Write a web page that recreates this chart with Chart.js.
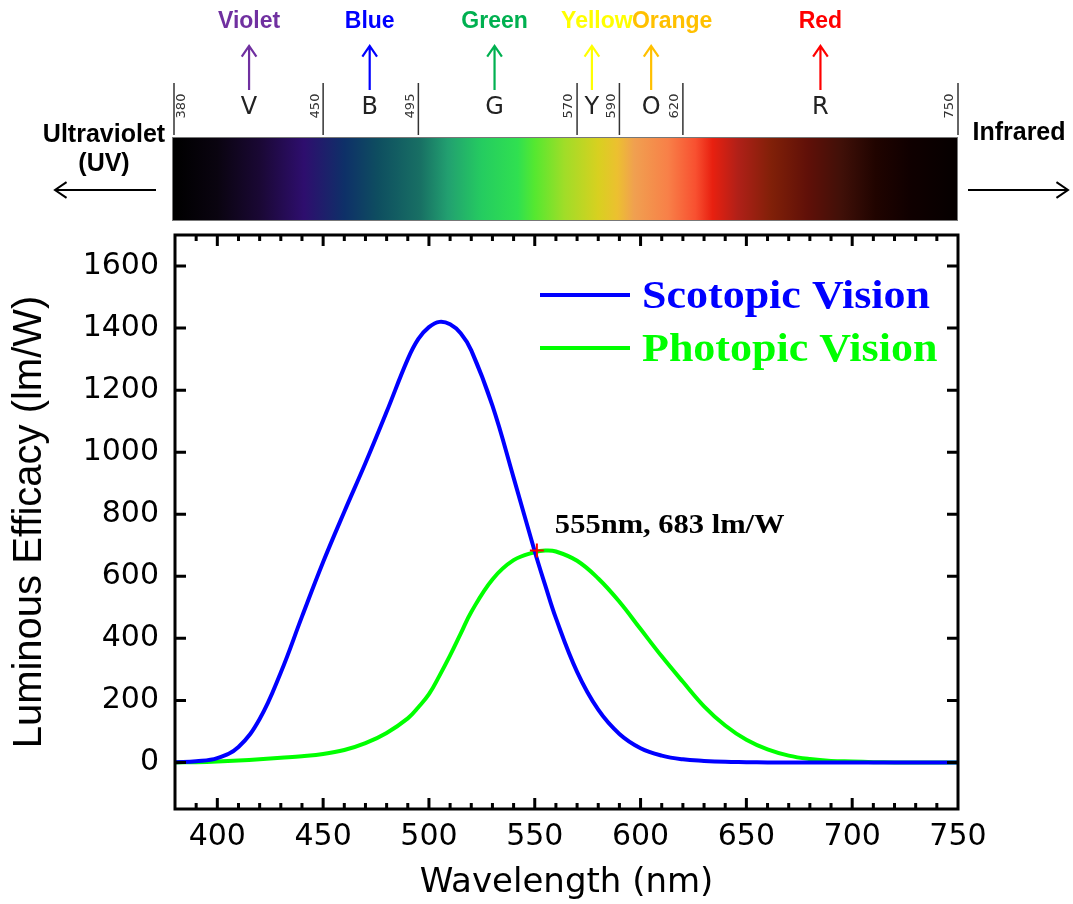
<!DOCTYPE html>
<html>
<head>
<meta charset="utf-8">
<script src="https://cdn.jsdelivr.net/npm/chart.js@4.4.1/dist/chart.umd.min.js"></script>
<style>
  html, body { margin: 0; padding: 0; background: #fff; }
  canvas { display: block; }
</style>
</head>
<body>
<canvas id="chart" width="1073" height="904"></canvas>
<script>
// Wavelength grid (nm)
const waveNm = [380, 390, 400, 410, 420, 430, 440, 450, 460, 470, 480, 490, 495, 500, 505, 510, 515, 520, 530, 540, 550, 555,
  560, 570, 580, 590, 600, 610, 620, 630, 640, 650, 660, 670, 680, 690, 700, 710, 720, 730, 740, 750];

// Luminous efficacy (lm/W)
const scotopic = [1, 4, 14, 50, 140, 290, 470, 646, 808, 965, 1130, 1300, 1365, 1403, 1420, 1412, 1383, 1328, 1150, 918, 680, 570,
  465, 292, 170, 92, 46, 22, 10, 5, 2, 1, 0, 0, 0, 0, 0, 0, 0, 0, 0, 0];
const photopic = [0, 1, 3, 6, 10, 15, 20, 27, 40, 62, 95, 142, 178, 220, 280, 345, 415, 485, 590, 652, 678, 683,
  680, 650, 593, 518, 430, 342, 260, 181, 119, 73, 42, 22, 11, 5, 3, 1, 0, 0, 0, 0];

// crossing marker
const markerPoint = { x: 551, y: 683 };
const markerText = "555nm, 683 lm/W";

// axis ticks
const xTicks = [400, 450, 500, 550, 600, 650, 700, 750];
const yTicks = [0, 200, 400, 600, 800, 1000, 1200, 1400, 1600];

// spectrum strip
const spectrumNm = [380, 400, 420, 441, 460, 476, 496, 509, 525, 542, 550, 564, 580, 589, 597, 613, 626, 634, 646, 662, 679, 695, 711, 727, 750];
const spectrumColors = ["#000000", "#0a0410", "#1a0834", "#2e0e6e", "#0e3068", "#0e4e60", "#187064", "#22a070", "#25cc60", "#30e050",
  "#55e830", "#a0dd28", "#d8d020", "#ecc030", "#f0a050", "#f88048", "#f85030", "#e82010", "#b02018", "#802008",
  "#601008", "#401008", "#200400", "#100000", "#050000"];
const bandEdges = [380, 450, 495, 570, 590, 620, 750];
const bandLetters = ["V", "B", "G", "Y", "O", "R"];
const bandCenterNm = [415, 472, 531, 577, 605, 685];
const bandNames = ["Violet", "Blue", "Green", "Yellow", "Orange", "Red"];
const bandColors = ["#7030A0", "#0000FF", "#00B050", "#FFFF00", "#FFC000", "#FF0000"];

const toPoints = (values) => values.map((v, i) => ({ x: waveNm[i], y: v }));

// stretched text helper (the figure is a bit wider than tall)
const wideText = (ctx, text, x, y, sx) => {
  ctx.save();
  ctx.translate(x, y);
  ctx.scale(sx, 1);
  ctx.fillText(text, 0, 0);
  ctx.restore();
};

const arrow = (ctx, x1, y1, x2, y2, head) => {
  const ang = Math.atan2(y2 - y1, x2 - x1);
  ctx.beginPath();
  ctx.moveTo(x1, y1);
  ctx.lineTo(x2, y2);
  ctx.moveTo(x2 - head * Math.cos(ang - 0.6), y2 - head * Math.sin(ang - 0.6));
  ctx.lineTo(x2, y2);
  ctx.lineTo(x2 - head * Math.cos(ang + 0.6), y2 - head * Math.sin(ang + 0.6));
  ctx.stroke();
};

// Frame with inside ticks on all four sides
const framePlugin = {
  id: "frame",
  afterDraw(chart) {
    const { ctx, chartArea: a, scales: { x, y } } = chart;
    ctx.save();
    ctx.strokeStyle = "#000";
    ctx.lineWidth = 3;
    ctx.lineCap = "butt";
    ctx.beginPath();
    for (let nm = 390; nm < 750; nm += 10) {
      const px = x.getPixelForValue(nm);
      const len = nm % 50 === 0 ? 11 : 6;
      ctx.moveTo(px, a.bottom);
      ctx.lineTo(px, a.bottom - len);
      ctx.moveTo(px, a.top);
      ctx.lineTo(px, a.top + len);
    }
    yTicks.forEach((v) => {
      const py = y.getPixelForValue(v);
      ctx.moveTo(a.left, py);
      ctx.lineTo(a.left + 11, py);
      ctx.moveTo(a.right, py);
      ctx.lineTo(a.right - 11, py);
    });
    ctx.stroke();
    ctx.strokeRect(a.left, a.top, a.right - a.left, a.bottom - a.top);
    ctx.restore();
  },
};

// Legend and crossing label
const legendPlugin = {
  id: "legendText",
  afterDraw(chart) {
    const { ctx, chartArea: a, scales: { x, y } } = chart;
    ctx.save();
    chart.data.datasets.slice(0, 2).forEach((ds, i) => {
      const ly = a.top + 60 + i * 53;
      ctx.strokeStyle = ds.borderColor;
      ctx.lineWidth = 4;
      ctx.beginPath();
      ctx.moveTo(a.left + 365, ly);
      ctx.lineTo(a.left + 455, ly);
      ctx.stroke();
      ctx.fillStyle = ds.borderColor;
      ctx.font = "bold 40px 'Liberation Serif'";
      ctx.textAlign = "left";
      ctx.textBaseline = "middle";
      wideText(ctx, ds.label, a.left + 467, ly + 3, 1.1);
    });
    ctx.fillStyle = "#000";
    ctx.font = "bold 28px 'Liberation Serif'";
    ctx.textBaseline = "middle";
    wideText(ctx, markerText, x.getPixelForValue(markerPoint.x) + 18, y.getPixelForValue(markerPoint.y) - 25, 1.09);
    ctx.restore();
  },
};

// Visible spectrum strip above the plot
const spectrumPlugin = {
  id: "spectrum",
  afterDraw(chart) {
    const { ctx, chartArea: a, scales: { x } } = chart;
    const x0 = x.getPixelForValue(380);
    const x1 = x.getPixelForValue(750);
    ctx.save();
    const grad = ctx.createLinearGradient(x0, 0, x1, 0);
    spectrumNm.forEach((nm, i) => grad.addColorStop((nm - 380) / 370, spectrumColors[i]));
    ctx.fillStyle = grad;
    ctx.fillRect(x0 - 2, 137, x1 - x0 + 2, 84);
    ctx.strokeStyle = "#777";
    ctx.lineWidth = 1;
    ctx.strokeRect(x0 - 2.5, 137.5, x1 - x0 + 2, 83);

    // band edges
    ctx.strokeStyle = "#333";
    ctx.lineWidth = 1.5;
    ctx.fillStyle = "#333";
    ctx.font = "13px 'DejaVu Sans'";
    bandEdges.forEach((nm, i) => {
      const px = x.getPixelForValue(nm) + (i === 0 ? -1 : 0);
      ctx.beginPath();
      ctx.moveTo(px, 83);
      ctx.lineTo(px, 135);
      ctx.stroke();
      ctx.save();
      ctx.translate(px + (i === 0 ? 8 : -8), 106);
      ctx.rotate(-Math.PI / 2);
      ctx.textAlign = "center";
      ctx.textBaseline = "middle";
      ctx.fillText(String(nm), 0, 0);
      ctx.restore();
    });

    // letters, arrows and names
    const nameShift = { Yellow: 5, Orange: 21 };
    bandLetters.forEach((letter, i) => {
      const px = x.getPixelForValue(bandCenterNm[i]);
      ctx.fillStyle = "#222";
      ctx.font = "24px 'DejaVu Sans'";
      ctx.textAlign = "center";
      ctx.textBaseline = "middle";
      ctx.fillText(letter, px, 108);
      ctx.strokeStyle = bandColors[i];
      ctx.lineWidth = 2.2;
      arrow(ctx, px, 90, px, 46, 13);
      ctx.fillStyle = bandColors[i];
      ctx.font = "bold 23px 'Liberation Sans'";
      ctx.fillText(bandNames[i], px + (nameShift[bandNames[i]] || 0), 22);
    });

    // UV and IR
    ctx.fillStyle = "#000";
    ctx.strokeStyle = "#000";
    ctx.lineWidth = 2;
    ctx.font = "bold 25px 'Liberation Sans'";
    ctx.textAlign = "center";
    ctx.textBaseline = "middle";
    ctx.fillText("Ultraviolet", a.left - 71, 135);
    ctx.fillText("(UV)", a.left - 71, 164);
    arrow(ctx, a.left - 19, 190, a.left - 120, 190, 14);
    ctx.fillText("Infrared", a.right + 61, 133);
    arrow(ctx, a.right + 10, 190, a.right + 110, 190, 14);
    ctx.restore();
  },
};

new Chart(document.getElementById("chart"), {
  type: "line",
  data: {
    datasets: [
      {
        label: "Scotopic Vision",
        data: toPoints(scotopic),
        borderColor: "#0000FF",
        borderWidth: 4,
        pointRadius: 0,
        tension: 0.4,
      },
      {
        label: "Photopic Vision",
        data: toPoints(photopic),
        borderColor: "#00FF00",
        borderWidth: 4,
        pointRadius: 0,
        tension: 0.4,
      },
      {
        label: "marker",
        data: [markerPoint],
        order: -1,
        showLine: false,
        pointStyle: "cross",
        pointRadius: 7,
        pointBorderColor: "#FF0000",
        pointBorderWidth: 2,
      },
    ],
  },
  options: {
    responsive: false,
    animation: false,
    layout: { padding: { top: 235, right: 115, left: 0, bottom: 0 } },
    plugins: {
      legend: { display: false },
      tooltip: { enabled: false },
    },
    scales: {
      x: {
        type: "linear",
        min: 380,
        max: 750,
        afterFit: (s) => { s.height = 95; },
        afterBuildTicks: (s) => { s.ticks = xTicks.map((v) => ({ value: v })); },
        grid: { display: false, drawTicks: false },
        border: { display: false },
        ticks: {
          autoSkip: false,
          maxRotation: 0,
          padding: 10,
          color: "#000",
          font: { family: "'DejaVu Sans'", size: 30 },
          callback: (v) => String(v),
        },
        title: {
          display: true,
          text: "Wavelength (nm)",
          color: "#000",
          padding: 0,
          font: { family: "'DejaVu Sans'", size: 34 },
        },
      },
      y: {
        type: "linear",
        min: -150,
        max: 1700,
        afterFit: (s) => { s.width = 175; },
        afterBuildTicks: (s) => { s.ticks = yTicks.map((v) => ({ value: v })); },
        grid: { display: false, drawTicks: false },
        border: { display: false },
        ticks: {
          padding: 16,
          color: "#000",
          font: { family: "'DejaVu Sans'", size: 30 },
          callback: (v) => String(v),
        },
        title: {
          display: true,
          text: "Luminous Efficacy (lm/W)",
          color: "#000",
          padding: { top: 6, bottom: 0 },
          font: { family: "'Liberation Sans'", size: 40 },
        },
      },
    },
  },
  plugins: [framePlugin, legendPlugin, spectrumPlugin],
});
</script>
</body>
</html>
